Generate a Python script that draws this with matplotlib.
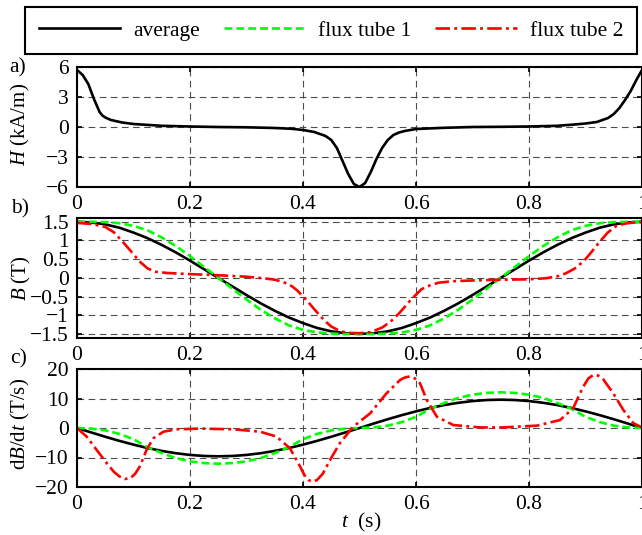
import matplotlib.pyplot as plt
from matplotlib.lines import Line2D

plt.rcParams['font.family'] = ['Liberation Serif', 'DejaVu Serif']
plt.rcParams['mathtext.fontset'] = 'custom'
plt.rcParams['mathtext.it'] = 'Liberation Serif:italic'
plt.rcParams['mathtext.rm'] = 'Liberation Serif'
plt.rcParams['font.size'] = 15.5

# panel a: magnetic field strength (average only)
t_h = [0, 0.01, 0.02, 0.03, 0.04, 0.045, 0.05, 0.06, 0.08, 0.1, 0.15, 0.2, 0.25, 0.3,
       0.35, 0.38, 0.4, 0.42, 0.43, 0.44, 0.45, 0.46, 0.47, 0.48, 0.49, 0.5,
       0.51, 0.52, 0.53, 0.54, 0.55, 0.56, 0.57, 0.58, 0.6, 0.65, 0.7, 0.75,
       0.8, 0.85, 0.88, 0.9, 0.92, 0.94, 0.95, 0.96, 0.97, 0.98, 0.99, 1.0]
h_avg = [5.7, 5.2, 4.3, 2.8, 1.5, 1.15, 0.95, 0.7, 0.45, 0.3, 0.12, 0.05, 0.0, -0.03,
         -0.1, -0.18, -0.3, -0.5, -0.7, -0.9, -1.3, -2.1, -3.4, -4.7, -5.7, -6.0,
         -5.6, -4.5, -3.2, -2.1, -1.3, -0.8, -0.55, -0.4, -0.2, -0.08, 0.0, 0.02,
         0.05, 0.12, 0.25, 0.35, 0.5, 0.9, 1.3, 1.9, 2.7, 3.6, 4.7, 5.7]

# panels b and c: average and flux tube 1 share a regular time grid
t_b = [i / 40 for i in range(41)]
b_avg = [1.5, 1.48, 1.43, 1.34, 1.21, 1.06, 0.88, 0.68, 0.46, 0.23, 0,
         -0.23, -0.46, -0.68, -0.88, -1.06, -1.21, -1.34, -1.43, -1.48, -1.5,
         -1.48, -1.43, -1.34, -1.21, -1.06, -0.88, -0.68, -0.46, -0.23, 0,
         0.23, 0.46, 0.68, 0.88, 1.06, 1.21, 1.34, 1.43, 1.48, 1.5]
b_tube1 = [1.5, 1.5, 1.49, 1.46, 1.39, 1.27, 1.08, 0.85, 0.58, 0.29, 0,
           -0.29, -0.58, -0.85, -1.08, -1.27, -1.39, -1.46, -1.49, -1.5, -1.5,
           -1.5, -1.49, -1.46, -1.39, -1.27, -1.08, -0.85, -0.58, -0.29, 0,
           0.29, 0.58, 0.85, 1.08, 1.27, 1.39, 1.46, 1.49, 1.5, 1.5]
dbdt_avg = [0, -1.5, -2.97, -4.36, -5.64, -6.79, -7.77, -8.55, -9.13, -9.48, -9.6,
            -9.48, -9.13, -8.55, -7.77, -6.79, -5.64, -4.36, -2.97, -1.5, 0,
            1.5, 2.97, 4.36, 5.64, 6.79, 7.77, 8.55, 9.13, 9.48, 9.6,
            9.48, 9.13, 8.55, 7.77, 6.79, 5.64, 4.36, 2.97, 1.5, 0]
dbdt_tube1 = [0, -0.2, -0.8, -2.0, -3.8, -6.5, -8.5, -10.2, -11.3, -11.9, -12.1,
              -11.9, -11.3, -10.2, -8.5, -6.5, -3.8, -2.0, -0.8, -0.2, 0,
              0.2, 0.8, 2.0, 3.8, 6.5, 8.5, 10.2, 11.3, 11.9, 12.1,
              11.9, 11.3, 10.2, 8.5, 6.5, 3.8, 2.0, 0.8, 0.2, 0]

# flux tube 2
t_b2 = [0.0, 0.025, 0.05, 0.065, 0.08, 0.095, 0.11, 0.125, 0.14, 0.16, 0.2, 0.25,
        0.3, 0.33, 0.35, 0.365, 0.38, 0.39, 0.4, 0.41, 0.42, 0.43, 0.44, 0.45,
        0.465, 0.48, 0.5, 0.52, 0.54, 0.555, 0.57, 0.58, 0.59, 0.6, 0.61, 0.625,
        0.64, 0.665, 0.7, 0.75, 0.8, 0.83, 0.85, 0.865, 0.88, 0.89, 0.9, 0.91,
        0.92, 0.93, 0.94, 0.955, 0.97, 0.985, 1.0]
b_tube2 = [1.47, 1.44, 1.36, 1.22, 0.98, 0.72, 0.45, 0.25, 0.16, 0.13, 0.1, 0.07,
           0.03, -0.01, -0.05, -0.11, -0.22, -0.34, -0.5, -0.66, -0.84, -1.01, -1.17, -1.3,
           -1.42, -1.47, -1.48, -1.45, -1.33, -1.17, -0.95, -0.78, -0.6, -0.45, -0.3, -0.2,
           -0.13, -0.09, -0.07, -0.05, -0.04, -0.01, 0.04, 0.12, 0.24, 0.36, 0.5, 0.68,
           0.87, 1.05, 1.22, 1.39, 1.45, 1.48, 1.49]
t_d2 = [0, 0.017, 0.035, 0.053, 0.065, 0.075, 0.085, 0.095, 0.103, 0.111, 0.123,
        0.135, 0.153, 0.176, 0.218, 0.277, 0.324, 0.353, 0.377, 0.395, 0.402,
        0.41, 0.418, 0.425, 0.435, 0.448, 0.465, 0.489, 0.519, 0.548, 0.572,
        0.58, 0.589, 0.598, 0.607, 0.619, 0.637, 0.666, 0.713, 0.754, 0.814,
        0.855, 0.878, 0.896, 0.905, 0.914, 0.922, 0.931, 0.949, 0.967, 0.985, 1.0]
dbdt_tube2 = [0, -2.9, -7.5, -12, -14.8, -16.4, -17.3, -16.9, -15.5, -13.1, -7.5,
              -3.5, -1.25, -0.45, -0.2, -0.45, -1.25, -2.9, -6.9, -13.1, -15.8,
              -17.7, -18.2, -17.6, -15.5, -10.8, -5.2, 0.45, 5.0, 11.8, 16.3,
              17.1, 17.5, 16.8, 15.2, 9.5, 3.8, 1.0, 0.2, 0.2, 0.8,
              2.7, 6.7, 14, 16.8, 18, 17.8, 16.6, 11.8, 6.1, 1.6, 0.2]

x_ticks = [0, 0.2, 0.4, 0.6, 0.8, 1]
x_labels = ['0', '0.2', '0.4', '0.6', '0.8', '1']

avg_style = dict(color='black', lw=1.9, linestyle='-')
tube1_style = dict(color='#00ff00', lw=1.9, linestyle=(0, (3.0, 1.5)))
tube2_style = dict(color='#ff0000', lw=1.9, linestyle=(0, (5.5, 1.6, 1.1, 1.6)))

W, H = 642, 535
fig = plt.figure(figsize=(6.42, 5.35), dpi=100)


def make_axes(top, bottom):
    ax = fig.add_axes([77 / W, 1 - bottom / H, 565 / W, (bottom - top) / H])
    ax.set_xlim(0, 1)
    ax.set_xticks(x_ticks)
    ax.set_xticklabels(x_labels)
    ax.grid(True, color='0.3', lw=0.8, linestyle=(0, (6, 4)))
    ax.tick_params(direction='in', length=3.5, width=1.2, top=True, right=True)
    ax.tick_params(axis='x', pad=6)
    ax.tick_params(axis='y', pad=6)
    for s in ax.spines.values():
        s.set_linewidth(1.5)
    return ax


ax_a = make_axes(67, 187)
ax_a.plot(t_h, h_avg, **avg_style)
ax_a.set_ylim(-6, 6)
ax_a.set_yticks([-6, -3, 0, 3, 6])

ax_b = make_axes(218, 337.7)
ax_b.plot(t_b, b_avg, **avg_style)
ax_b.plot(t_b, b_tube1, **tube1_style)
ax_b.plot(t_b2, b_tube2, **tube2_style)
ax_b.set_ylim(-1.6, 1.6)
ax_b.set_yticks([-1.5, -1, -0.5, 0, 0.5, 1, 1.5])
ax_b.set_yticklabels(['\u22121.5', '\u22121', '\u22120.5', '0', '0.5', '1', '1.5'])

ax_c = make_axes(369, 487)
ax_c.plot(t_b, dbdt_avg, **avg_style)
ax_c.plot(t_b, dbdt_tube1, **tube1_style)
ax_c.plot(t_d2, dbdt_tube2, **tube2_style)
ax_c.set_ylim(-20, 20)
ax_c.set_yticks([-20, -10, 0, 10, 20])

fig.text(20 / W, 1 - 124 / H, '$H$ (kA/m)', rotation=90, ha='center', va='center',
         fontsize=15)
fig.text(21 / W, 1 - 278 / H, '$B$ (T)', rotation=90, ha='center', va='center',
         fontsize=15)
fig.text(20 / W, 1 - 424 / H, 'd$B$/d$t$ (T/s)', rotation=90, ha='center', va='center',
         fontsize=15)
fig.text(361 / W, 1 - 522 / H, '$t$  (s)', ha='center', va='center')

fig.text(18 / W, 1 - 68 / H, 'a)', ha='center', va='center')
fig.text(20 / W, 1 - 209 / H, 'b)', ha='center', va='center')
fig.text(19 / W, 1 - 359 / H, 'c)', ha='center', va='center')

handles = [Line2D([], [], **avg_style), Line2D([], [], **tube1_style),
           Line2D([], [], **tube2_style)]
leg = fig.legend(handles, ['average', 'flux tube 1', 'flux tube 2'],
                 loc='center', bbox_to_anchor=(331 / W, 1 - 30.5 / H),
                 ncol=3, fancybox=False, edgecolor='black', borderpad=0.62,
                 handlelength=3.8, handletextpad=0.6, columnspacing=1.1, framealpha=1)
leg.get_frame().set_linewidth(1.5)

fig.savefig('out.png', dpi=100)
